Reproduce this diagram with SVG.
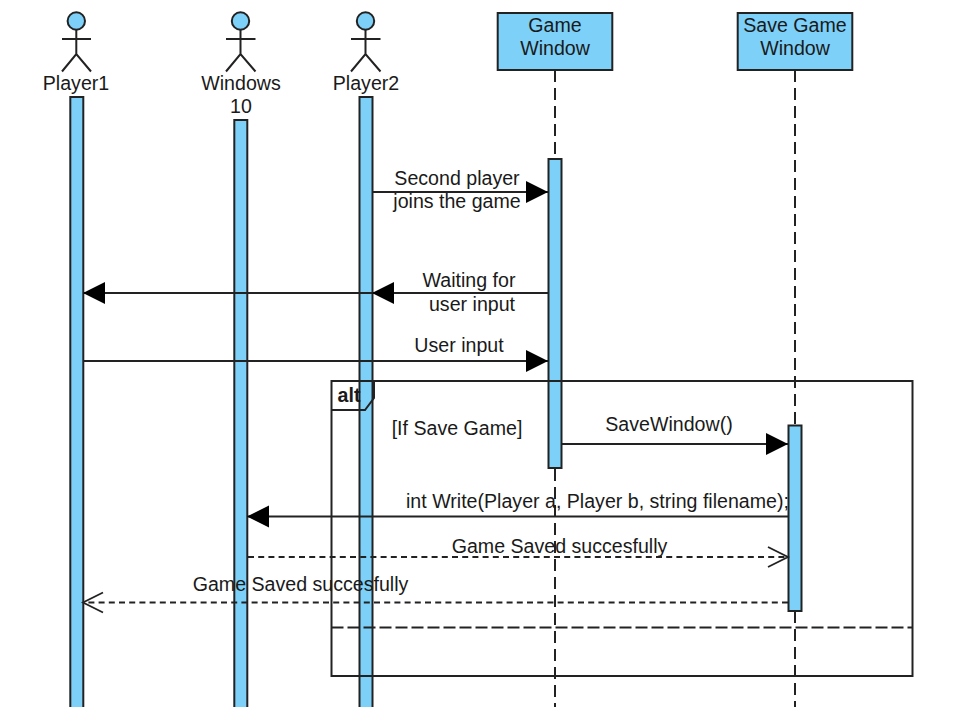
<svg xmlns="http://www.w3.org/2000/svg" width="980" height="707" viewBox="0 0 980 707">
<defs>
<marker id="solid" markerUnits="userSpaceOnUse" markerWidth="24" markerHeight="24" refX="22" refY="11" orient="auto-start-reverse"><path d="M0 0L22 11L0 22Z" fill="#000"/></marker>
<marker id="open" markerUnits="userSpaceOnUse" markerWidth="24" markerHeight="24" refX="21" refY="11" orient="auto-start-reverse"><path d="M1 1L21 11L1 21" fill="none" stroke="#222" stroke-width="1.8"/></marker>
</defs>
<style>
text{font-family:"Liberation Sans",Arial,sans-serif;font-size:19.6px;fill:#1a1a1a;text-anchor:middle}
.bar{fill:#7dd0f7;stroke:#222;stroke-width:2}
.act{fill:none;stroke:#222;stroke-width:2}
.life{fill:none;stroke:#222;stroke-width:2;stroke-dasharray:12 6}
.msg{fill:none;stroke:#222;stroke-width:2}
.ret{fill:none;stroke:#222;stroke-width:1.8;stroke-dasharray:6 4.2}
.frame{fill:none;stroke:#222;stroke-width:2}
</style>
<rect width="980" height="707" fill="#fff"/>
<path id="alt-tab-fill" d="M332 382H374V398L365 410H332Z" fill="#fff"/>
<g id="player1"><circle class="bar" cx="76.3" cy="21" r="8.7"/><path class="act" d="M76.3 30V54M62 39H91M62 71.500L76.300 54L91 71.500"/><rect class="bar" x="70.300" y="97" width="13" height="620"/><text x="76" y="90">Player1</text></g>
<g id="windows10"><circle class="bar" cx="240.500" cy="21" r="8.700"/><path class="act" d="M240.500 30V54M226 39H255.500M226 71.500L240.500 54L255.500 71.500"/><rect class="bar" x="234.300" y="120" width="13" height="597"/><text x="241" y="90">Windows</text><text x="241" y="113">10</text></g>
<g id="player2"><circle class="bar" cx="365.500" cy="21" r="8.700"/><path class="act" d="M365.500 30V54M351 39H380.500M351 71.500L365.500 54L380.500 71.500"/><rect class="bar" x="359.500" y="97" width="13" height="620"/><text x="366" y="90">Player2</text></g>
<g id="game-window"><path class="life" d="M555 70V158"/><path class="life" d="M555 469V707"/><rect class="bar" x="497.700" y="13" width="114.600" height="57"/><text x="555" y="32">Game</text><text x="555" y="55">Window</text><rect class="bar" x="548.500" y="159" width="13" height="309"/></g>
<g id="save-game-window"><path class="life" d="M795 70V425"/><path class="life" d="M795 611V707"/><rect class="bar" x="737.700" y="13" width="114.600" height="57"/><text x="795" y="32">Save Game</text><text x="795" y="55">Window</text><rect class="bar" x="788.500" y="425.500" width="13" height="185.500"/></g>
<g id="alt-frame"><rect class="frame" x="331.500" y="381" width="581" height="295"/><path class="frame" d="M331.500 410H365L374 398V381"/><path class="frame" d="M331.500 627.500H912.500" style="stroke-dasharray:12 4"/><text x="349" y="402" style="font-weight:bold">alt</text><text x="457" y="435">[If Save Game]</text></g>
<g id="connectors">
<path class="msg" d="M373 192H548" marker-end="url(#solid)"/>
<path class="msg" d="M548 293H372" marker-end="url(#solid)"/>
<path class="msg" d="M372 293H83" marker-end="url(#solid)"/>
<path class="msg" d="M83 361H548" marker-end="url(#solid)"/>
<path class="msg" d="M562 444H788" marker-end="url(#solid)"/>
<path class="msg" d="M788 516.500H247" marker-end="url(#solid)"/>
<path class="ret" d="M248 557H788" marker-end="url(#open)"/>
<path class="ret" d="M788 602.500H83" marker-end="url(#open)"/>
</g>
<g id="labels">
<text x="457" y="185">Second player</text><text x="457" y="208">joins the game</text>
<text x="469" y="287">Waiting for</text><text x="472" y="311">user input</text>
<text x="459" y="352">User input</text>
<text x="669" y="431">SaveWindow()</text>
<text x="597.500" y="508">int Write(Player a, Player b, string filename);</text>
<text x="559.500" y="553">Game Saved succesfully</text>
<text x="300.500" y="591">Game Saved succesfully</text>
</g>
</svg>
